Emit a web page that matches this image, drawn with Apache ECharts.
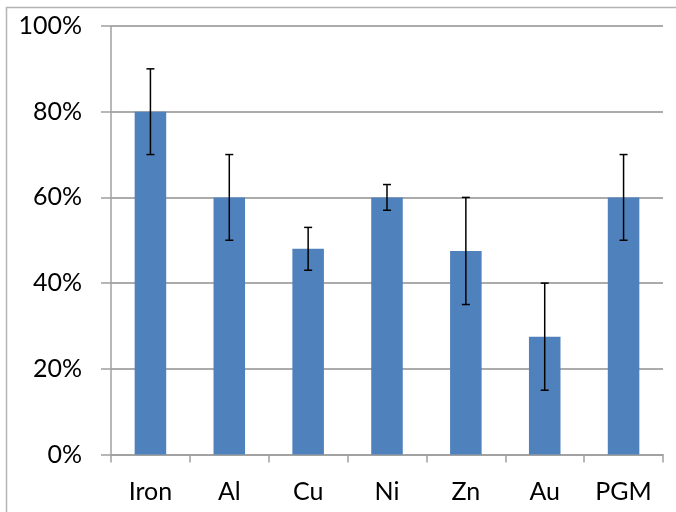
<!DOCTYPE html>
<html>
<head>
<meta charset="utf-8">
<script src="https://cdn.jsdelivr.net/npm/echarts@6/dist/echarts.min.js"></script>
<style>
html,body{margin:0;padding:0;background:#fff;}
#chart{width:676px;height:512px;}
</style>
</head>
<body>
<div id="chart"></div>
<script>
const categories = ['Iron', 'Al', 'Cu', 'Ni', 'Zn', 'Au', 'PGM'];
const values = [0.80, 0.60, 0.48, 0.60, 0.475, 0.275, 0.60];
const errLow = [0.70, 0.50, 0.43, 0.57, 0.35, 0.15, 0.50];
const errHigh = [0.90, 0.70, 0.53, 0.63, 0.60, 0.40, 0.70];
const yTicks = [0, 0.2, 0.4, 0.6, 0.8, 1.0];

const chart = echarts.init(document.getElementById('chart'));
const font = 'Lato, "Liberation Sans", sans-serif';
chart.setOption({
  animation: false,
  backgroundColor: '#fff',
  graphic: [{
    type: 'rect', silent: true, z: 0,
    shape: { x: 6.5, y: 7.5, width: 800, height: 800 },
    style: { fill: 'none', stroke: '#b4b4b4', lineWidth: 1.5 }
  }],
  grid: { left: 111, right: 13, top: 26, bottom: 57.5, containLabel: false },
  xAxis: {
    type: 'category',
    data: categories,
    axisLine: { lineStyle: { color: '#a0a0a0', width: 1.5 } },
    axisTick: { show: true, length: 8, lineStyle: { color: '#a0a0a0', width: 1.5 } },
    axisLabel: { color: '#000', fontFamily: font, fontSize: 25, margin: 25 },
    splitLine: { show: false }
  },
  yAxis: {
    type: 'value',
    min: yTicks[0], max: yTicks[yTicks.length - 1], interval: 0.2,
    axisLine: { show: true, lineStyle: { color: '#a0a0a0', width: 1.5 } },
    axisTick: { show: true, length: 10, lineStyle: { color: '#a0a0a0', width: 1.5 } },
    axisLabel: {
      color: '#000', fontFamily: font, fontSize: 25, margin: 29,
      formatter: v => Math.round(v * 100) + '%'
    },
    splitLine: { show: true, lineStyle: { color: '#8f8f8f', width: 1.5 } }
  },
  series: [{
    type: 'bar',
    data: values,
    barWidth: '40%',
    itemStyle: { color: '#4f81bd' },
    z: 2
  }, {
    type: 'custom',
    z: 3,
    data: categories.map((c, i) => [i, errLow[i], errHigh[i]]),
    renderItem: function (params, api) {
      const lo = api.coord([api.value(0), api.value(1)]);
      const hi = api.coord([api.value(0), api.value(2)]);
      const hw = 4;
      const st = { stroke: '#000', lineWidth: 1.5 };
      return {
        type: 'group',
        children: [
          { type: 'line', shape: { x1: lo[0], y1: lo[1], x2: hi[0], y2: hi[1] }, style: st },
          { type: 'line', shape: { x1: lo[0] - hw, y1: lo[1], x2: lo[0] + hw, y2: lo[1] }, style: st },
          { type: 'line', shape: { x1: hi[0] - hw, y1: hi[1], x2: hi[0] + hw, y2: hi[1] }, style: st }
        ]
      };
    }
  }]
});
</script>
</body>
</html>
